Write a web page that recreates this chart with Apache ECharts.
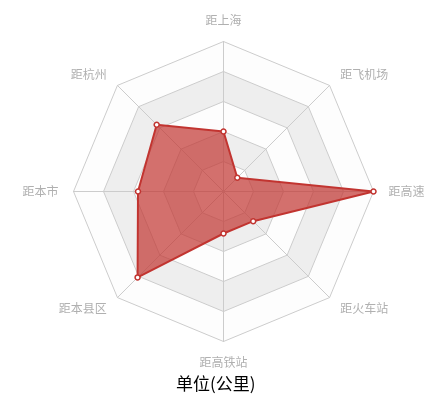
<!DOCTYPE html>
<html>
<head>
<meta charset="utf-8">
<script src="https://cdn.jsdelivr.net/npm/echarts@6/dist/echarts.min.js"></script>
<style>
  html, body { margin: 0; padding: 0; background: #fff; }
  #main { width: 447px; height: 401px; }
</style>
</head>
<body>
<div id="main"></div>
<script>
// 指标（逆时针，从顶部开始）
const indicatorNames = ['距上海', '距杭州', '距本市', '距本县区', '距高铁站', '距火车站', '距高速', '距飞机场']
const maxValues = [100, 100, 100, 100, 100, 100, 100, 100]
const distances = [40, 63, 57, 81, 28, 28, 100, 13]

var myChart = echarts.init(document.getElementById('main'))

myChart.setOption({
  animation: false,
  title: {
    text: '单位(公里)',
    left: 171,
    top: 370,
    textStyle: {
      color: '#000',
      fontSize: 17,
      fontWeight: 'normal',
      fontFamily: 'Noto Sans CJK SC'
    }
  },
  radar: {
    center: ['50%', 191.5],
    radius: 150,
    shape: 'polygon',
    splitNumber: 5,
    indicator: indicatorNames.map((name, i) => ({ name: name, max: maxValues[i] })),
    axisName: {
      color: '#b0b0b0',
      fontSize: 12,
      fontFamily: 'Noto Sans CJK SC'
    },
    axisLine: { lineStyle: { color: '#ccc' } },
    splitLine: { lineStyle: { color: '#ccc' } },
    splitArea: {
      show: true,
      areaStyle: { color: ['rgba(250,250,250,0.3)', 'rgba(200,200,200,0.3)'] }
    }
  },
  series: [{
    type: 'radar',
    symbol: 'circle',
    symbolSize: 5,
    itemStyle: { color: '#fff', borderColor: '#c23531', borderWidth: 1.5 },
    lineStyle: { color: '#c23531', width: 2 },
    areaStyle: { color: '#c23531', opacity: 0.7 },
    data: [{ value: distances, name: '距离' }]
  }]
})
</script>
</body>
</html>
